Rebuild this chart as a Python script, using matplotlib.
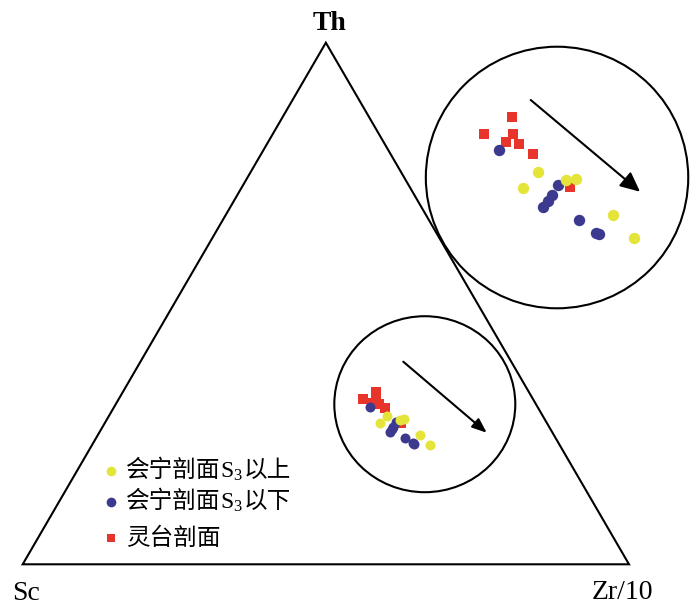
import numpy as np
import matplotlib
matplotlib.use("Agg")
import matplotlib.pyplot as plt
from matplotlib.patches import Ellipse, Polygon, FancyArrowPatch
from matplotlib.offsetbox import TextArea, HPacker, AnchoredOffsetbox

plt.rcParams['font.family'] = ['Liberation Serif', 'Noto Sans CJK SC', 'DejaVu Sans']

# ---- data: ternary compositions (%) Th, Zr/10, Sc ----
yellow_th = [28.4, 27.0, 27.7, 27.8, 24.7, 22.8]
yellow_zr = [45.9, 45.5, 48.3, 49.0, 53.2, 55.7]
yellow_sc = [25.7, 27.5, 24.0, 23.2, 22.1, 21.5]

blue_th = [30.2, 27.3, 26.4, 25.9, 25.4, 24.3, 23.2, 23.1]
blue_zr = [42.2, 47.9, 47.9, 47.9, 47.8, 50.9, 52.7, 53.0]
blue_sc = [27.6, 24.8, 25.7, 26.2, 26.8, 24.8, 24.1, 23.9]

red_th = [33.0, 31.6, 31.6, 30.9, 30.7, 29.9, 27.1]
red_zr = [41.7, 40.4, 42.5, 42.3, 43.4, 44.8, 48.9]
red_sc = [25.3, 28.0, 25.9, 26.8, 25.9, 25.3, 24.0]

# legend labels split as (CJK prefix, subscripted S3, CJK suffix)
labels = [('会宁剖面', 'S$\\mathregular{_3}$', '以上'),
          ('会宁剖面', 'S$\\mathregular{_3}$', '以下'),
          ('灵台剖面', '', '')]
corner_labels = ['Th', 'Sc', 'Zr/10']

YELLOW = '#E4E43A'
BLUE = '#3B3A8E'
RED = '#E8352B'

H = np.sqrt(3) / 2


def tern(th, zr, sc):
    th = np.asarray(th, float); zr = np.asarray(zr, float); sc = np.asarray(sc, float)
    s = th + zr + sc
    t, z = th / s, zr / s
    return z + t / 2, t * H


# zoom (enlarged view in the big circle)
ZOOM_FROM = np.array([0.5618, 0.2740])
ZOOM_TO = np.array([0.7608, 0.7156])
ZOOM = 2.27


def zoom(x, y):
    return (ZOOM_TO[0] + ZOOM * (np.asarray(x) - ZOOM_FROM[0]),
            ZOOM_TO[1] + ZOOM * (np.asarray(y) - ZOOM_FROM[1]))


fig = plt.figure(figsize=(7.0, 6.09), dpi=100)
ax = fig.add_axes([0, 0, 1, 1])
ax.set_xlim(-22.7 / 606.3, (700 - 22.7) / 606.3)
ax.set_ylim(-(609 - 564.3) / 602.3, 564.3 / 602.3)
ax.axis('off')

# triangle
tri = Polygon([[0, 0], [1, 0], [0.5, H]], closed=True, fill=False,
              edgecolor='black', linewidth=1.5, joinstyle='miter')
ax.add_patch(tri)

# circles
ax.add_patch(Ellipse((0.6632, 0.2658), 0.2985, 0.2922, fill=False,
                     edgecolor='black', linewidth=1.5))
ax.add_patch(Ellipse((0.8813, 0.6422), 0.4328, 0.4343, fill=False,
                     edgecolor='black', linewidth=1.5))

series = [(red_th, red_zr, red_sc, RED, 's'),
          (blue_th, blue_zr, blue_sc, BLUE, 'o'),
          (yellow_th, yellow_zr, yellow_sc, YELLOW, 'o')]

for th, zr, sc, col, mk in series:
    x, y = tern(th, zr, sc)
    ms = 7.2 if mk == 'o' else 6.8
    ax.plot(x, y, linestyle='none', marker=mk, markersize=ms, color=col,
            markeredgewidth=0, zorder=3)
    bx, by = zoom(x, y)
    ms2 = 8.2 if mk == 'o' else 7.8
    ax.plot(bx, by, linestyle='none', marker=mk, markersize=ms2, color=col,
            markeredgewidth=0, zorder=3)

# arrows
ax.add_patch(FancyArrowPatch((0.6277, 0.3364), (0.7653, 0.2185),
                             arrowstyle='-|>,head_length=0.55,head_width=0.22',
                             mutation_scale=16, color='black', linewidth=1.5,
                             shrinkA=0, shrinkB=0))
ax.add_patch(FancyArrowPatch((0.8379, 0.7709), (1.0182, 0.6186),
                             arrowstyle='-|>,head_length=0.6,head_width=0.28',
                             mutation_scale=20, color='black', linewidth=1.5,
                             shrinkA=0, shrinkB=0))

# corner labels
ax.text(0.5052, 0.8987, corner_labels[0], ha='center', va='center',
        fontsize=20, fontweight='bold', family='Liberation Serif')
ax.text(0.0054, -0.0477, corner_labels[1], ha='center', va='center',
        fontsize=20, family='Liberation Serif')
ax.text(0.9885, -0.046, corner_labels[2], ha='center', va='center',
        fontsize=20, family='Liberation Serif')

# legend (manual)
leg_y = [471, 502, 538]
leg_cols = [YELLOW, BLUE, RED]
leg_mk = ['o', 'o', 's']
FS = 17
for (pre, sub, post), py, col, mk in zip(labels, leg_y, leg_cols, leg_mk):
    fx, fy = 110.5 / 700, 1 - py / 609
    ax.plot([fx], [fy], transform=ax.transAxes, linestyle='none', marker=mk,
            markersize=7.0 if mk == 'o' else 6.0, color=col, markeredgewidth=0)
    parts = [TextArea(pre, textprops=dict(family='Noto Sans CJK SC', size=FS))]
    if sub:
        parts.append(TextArea(sub, textprops=dict(family='Liberation Serif', size=FS)))
    if post:
        parts.append(TextArea(post, textprops=dict(family='Noto Sans CJK SC', size=FS)))
    box = HPacker(children=parts, align='baseline', pad=0, sep=0)
    anch = AnchoredOffsetbox(loc='center left', child=box, pad=0, borderpad=0,
                             frameon=False, bbox_to_anchor=(126 / 700, fy),
                             bbox_transform=ax.transAxes)
    ax.add_artist(anch)

fig.savefig('out.png', dpi=100)
